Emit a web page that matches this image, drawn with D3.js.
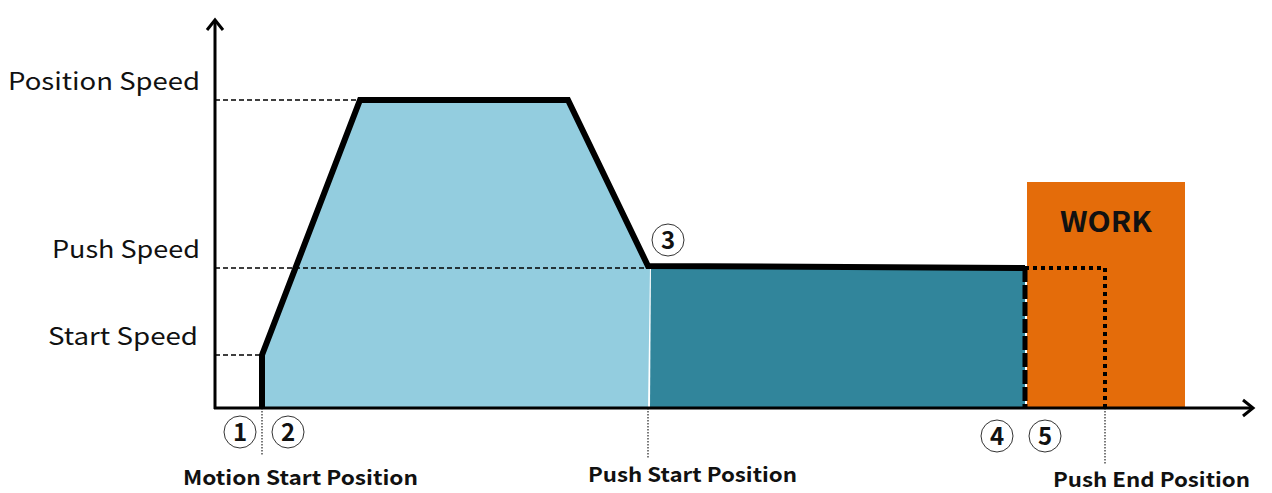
<!DOCTYPE html>
<html><head><meta charset="utf-8">
<script src="https://cdn.jsdelivr.net/npm/d3@7"></script>
<style>body{margin:0;background:#fff}svg{display:block}</style>
</head><body><svg id="c" width="1272" height="493"></svg>
<script>
// ---- data (position units along x, speed units along y) ----
const speedLabels = ["Start Speed", "Push Speed", "Position Speed"];
const speedValues = [53, 140, 308];
const positionLabels = ["Motion Start Position", "Push Start Position", "Push End Position"];
const positionValues = [47, 433, 890];
const profileX = [47, 47, 145, 353, 433, 810];
const profileY = [0, 53, 308, 308, 142, 140];
const workStart = 812, workEnd = 970, workHeight = 226;
const pushEndX = 890;
const stepLabels = ["1", "2", "3", "4", "5"];
const stepX = [25, 73, 453, 782, 830];
const stepY = [-24, -24, 168, -28, -28];

const svg = d3.select("#c");
const x = d3.scaleLinear().domain([0, 1040]).range([215, 1255]);
const y = d3.scaleLinear().domain([0, 390]).range([408, 18]);
const font = "'Noto Sans CJK KR','Noto Sans',sans-serif";

// fills
const lightPts = [[profileX[0],0]];
for (let i=0;i<5;i++) lightPts.push([profileX[i],profileY[i]]);
lightPts.push([435,142],[433,0]);
const area = d3.line().x(d=>x(d[0])).y(d=>y(d[1]));
svg.append("path").attr("d", area(lightPts)+"Z").attr("fill","#93CDDF");
svg.append("path").attr("d", area([[435,0],[436,142],[profileX[5],profileY[5]],[profileX[5],0]])+"Z").attr("fill","#31859B");

// work box
svg.append("rect").attr("x",x(workStart)).attr("y",y(workHeight))
  .attr("width",x(workEnd)-x(workStart)).attr("height",y(0)-y(workHeight)).attr("fill","#E46C0A");
svg.append("text").attr("x",x((workStart+workEnd)/2)).attr("y",y(workHeight)+50)
  .attr("text-anchor","middle").attr("font-family",font).attr("font-weight","bold")
  .attr("font-size",28).attr("fill","#111").attr("textLength",92).attr("lengthAdjust","spacingAndGlyphs").text("WORK");

// dashed speed guides
const guideEnds = [47, 433, 145];
const speedLabelRight = [198, 200, 200];
const speedLabelWidth = [150, 148, 192];
speedValues.forEach((v,i)=>{
  svg.append("line").attr("x1",x(0)).attr("x2",x(guideEnds[i])).attr("y1",y(v)).attr("y2",y(v))
    .attr("stroke","#000").attr("stroke-width",1.5).attr("stroke-dasharray","5,3");
  svg.append("text").attr("x",speedLabelRight[i]-speedLabelWidth[i]).attr("y",y(v)-10)
    .attr("font-family",font).attr("font-size",24).attr("fill","#111")
    .attr("textLength",speedLabelWidth[i]).attr("lengthAdjust","spacingAndGlyphs").text(speedLabels[i]);
});

// dotted position guides
const guideBottoms = [455, 458, 465];
positionValues.forEach((v,i)=>{
  svg.append("line").attr("x1",x(v)).attr("x2",x(v)).attr("y1",y(0)).attr("y2",guideBottoms[i])
    .attr("stroke","#222").attr("stroke-width",1.2).attr("stroke-dasharray","1.5,1.5");
});
const labelPos = [[183,485,235],[588,482,209],[1053,487,197]];
positionLabels.forEach((t,i)=>{
  svg.append("text").attr("x",labelPos[i][0]).attr("y",labelPos[i][1])
    .attr("font-family",font).attr("font-weight","bold").attr("font-size",20).attr("fill","#111")
    .attr("textLength",labelPos[i][2]).attr("lengthAdjust","spacingAndGlyphs").text(t);
});

// axes
svg.append("line").attr("x1",x(0)).attr("x2",x(0)).attr("y1",y(0)+1).attr("y2",y(390)+2).attr("stroke","#000").attr("stroke-width",3);
svg.append("path").attr("d",`M${x(0)-8},${y(390)+12}L${x(0)},${y(390)+2}L${x(0)+8},${y(390)+12}`).attr("fill","none").attr("stroke","#000").attr("stroke-width",3);
svg.append("line").attr("x1",x(0)-1).attr("x2",x(1040)-2).attr("y1",y(0)).attr("y2",y(0)).attr("stroke","#000").attr("stroke-width",3);
svg.append("path").attr("d",`M${x(1040)-12},${y(0)-8}L${x(1040)-2},${y(0)}L${x(1040)-12},${y(0)+8}`).attr("fill","none").attr("stroke","#000").attr("stroke-width",3);

// profile
svg.append("path").attr("d", area(profileX.map((d,i)=>[d,profileY[i]])))
  .attr("fill","none").attr("stroke","#000").attr("stroke-width",6).attr("stroke-linejoin","miter");
// push phase dashed vertical
svg.append("line").attr("x1",x(profileX[5])).attr("x2",x(profileX[5])).attr("y1",y(profileY[5])).attr("y2",y(0))
  .attr("stroke","#000").attr("stroke-width",5).attr("stroke-dasharray","14,3");
// push end dotted
svg.append("path").attr("d", area([[profileX[5],140],[pushEndX,140],[pushEndX,0]]))
  .attr("fill","none").attr("stroke","#000").attr("stroke-width",4).attr("stroke-dasharray","4,4");

// step circles
stepLabels.forEach((t,i)=>{
  const cx = x(stepX[i]), cy = y(stepY[i]);
  svg.append("circle").attr("cx",cx).attr("cy",cy).attr("r",16).attr("fill","#fff").attr("stroke","#333").attr("stroke-width",1);
  svg.append("text").attr("x",cx).attr("y",cy+9).attr("text-anchor","middle")
    .attr("font-family",font).attr("font-weight","bold").attr("font-size",24).attr("fill","#111").text(t);
});
</script></body></html>
